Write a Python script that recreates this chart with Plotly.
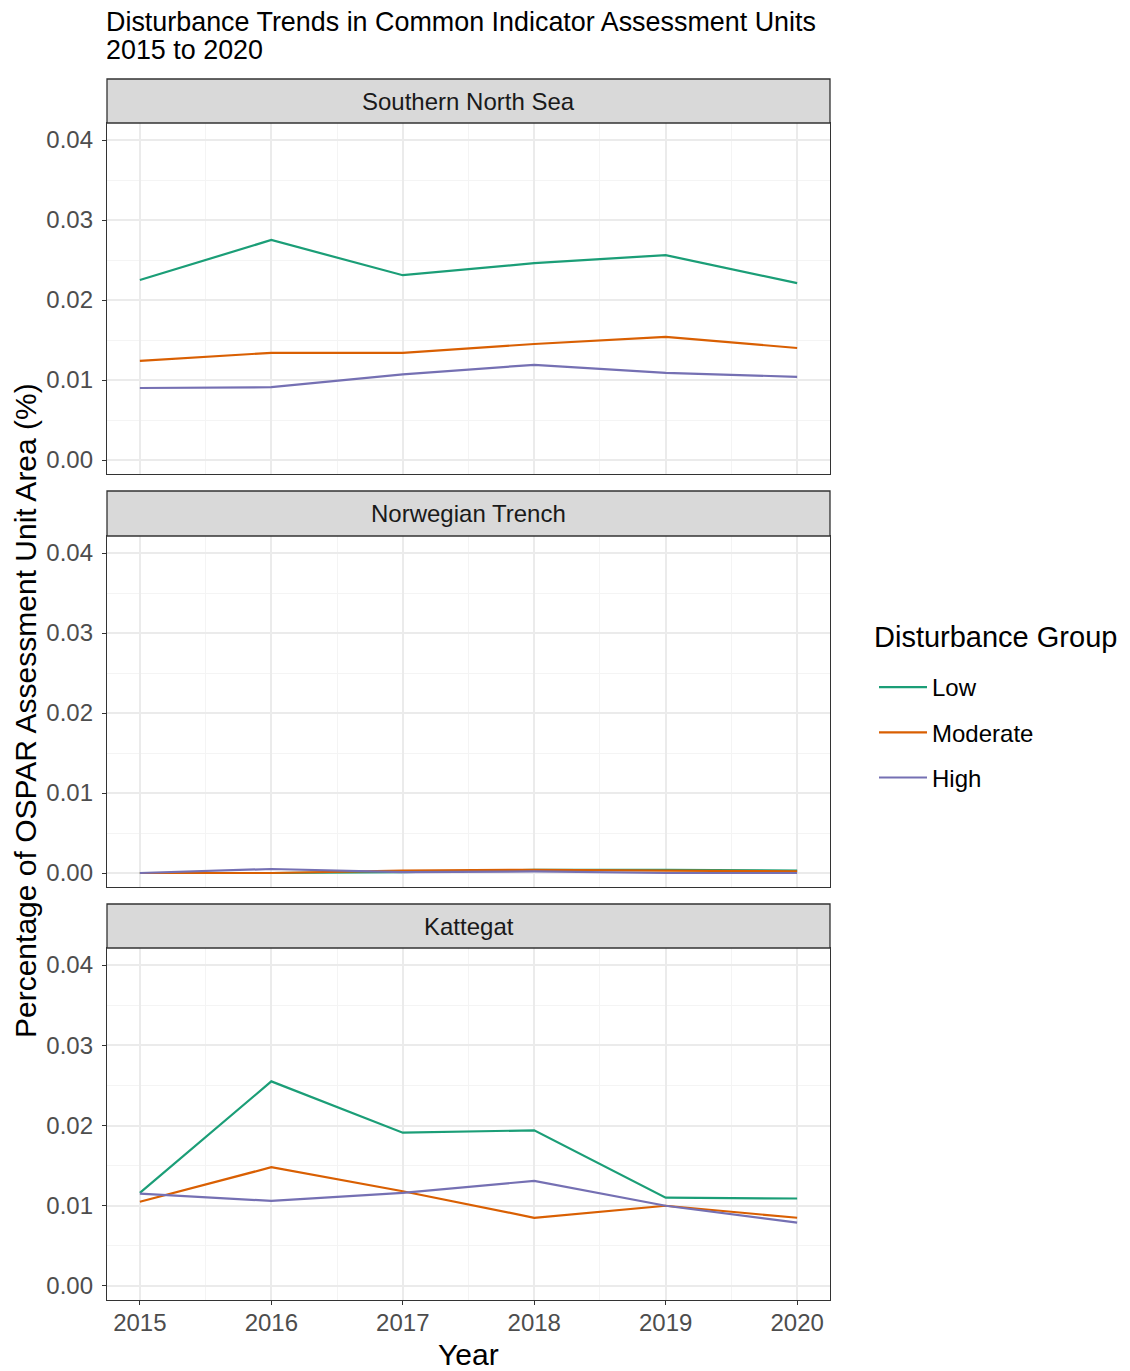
import plotly.graph_objects as go

years = [2015, 2016, 2017, 2018, 2019, 2020]
groups = ["Low", "Moderate", "High"]
colors = {"Low": "#1B9E77", "Moderate": "#D95F02", "High": "#7570B3"}
regions = ["Southern North Sea", "Norwegian Trench", "Kattegat"]

southern_north_sea = {
    "Low": [0.0225, 0.0275, 0.0231, 0.0246, 0.0256, 0.0221],
    "Moderate": [0.0124, 0.0134, 0.0134, 0.0145, 0.0154, 0.0140],
    "High": [0.0090, 0.0091, 0.0107, 0.0119, 0.0109, 0.0104],
}
norwegian_trench = {
    "Low": [0.0000, 0.0000, 0.0001, 0.0004, 0.0004, 0.0003],
    "Moderate": [0.0000, 0.0000, 0.0003, 0.0004, 0.0003, 0.0002],
    "High": [0.0000, 0.0005, 0.0001, 0.0002, 0.0000, 0.0000],
}
kattegat = {
    "Low": [0.0116, 0.0255, 0.0191, 0.0194, 0.0110, 0.0109],
    "Moderate": [0.0105, 0.0148, 0.0118, 0.0085, 0.0100, 0.0085],
    "High": [0.0115, 0.0106, 0.0116, 0.0131, 0.0100, 0.0079],
}
data = [southern_north_sea, norwegian_trench, kattegat]

y_ticks = [0.00, 0.01, 0.02, 0.03, 0.04]
y_tick_labels = ["0.00", "0.01", "0.02", "0.03", "0.04"]

FONT = "Liberation Sans, Arial, sans-serif"
OFF = 8  # page body margin
W, H = 1122, 1363
ML, MT = 107 - OFF, 79 - OFF
MR = W - (830 - OFF)
MB = H - (1300 - OFF)
PW = W - ML - MR
PH = H - MT - MB

def py(p):
    # picture pixel y -> paper y
    return (H - MB - (p - OFF)) / PH

def px(p):
    # picture pixel x -> paper x
    return (p - OFF - ML) / PW

# panel pixel extents in picture: (strip_top, plot_top, plot_bottom)
panels = [(79, 123, 474), (491, 536, 887), (904, 948, 1300)]

fig = go.Figure()
shapes = []
annotations = []
for i, (region, d) in enumerate(zip(regions, data)):
    ax = "" if i == 0 else str(i + 1)
    st, pt, pb = panels[i]
    for g in groups:
        fig.add_trace(go.Scatter(
            x=years, y=d[g], mode="lines", name=g,
            line=dict(color=colors[g], width=2.2),
            xaxis="x" + ax, yaxis="y" + ax,
            legendgroup=g, showlegend=(i == 0),
        ))
    dom = [py(pb), py(pt)]
    fig.layout["yaxis" + ax] = dict(
        domain=dom, range=[-0.00175, 0.042125], anchor="x" + ax,
        tickvals=y_ticks, ticktext=y_tick_labels,
        showgrid=True, gridcolor="#EBEBEB", gridwidth=1.5,
        minor=dict(dtick=0.005, showgrid=True, gridcolor="#F4F4F4", gridwidth=1),
        zeroline=False, showline=True, mirror=True, linecolor="#333333", linewidth=1.3,
        ticks="outside", ticklen=4, tickcolor="#333333", tickwidth=1.3,
        ticklabelstandoff=4,
        tickfont=dict(family=FONT, size=24, color="#4D4D4D"),
    )
    fig.layout["xaxis" + ax] = dict(
        domain=[0, 1], range=[2014.75, 2020.25], anchor="y" + ax,
        tickvals=years, ticktext=[str(y) for y in years],
        showticklabels=(i == 2),
        showgrid=True, gridcolor="#EBEBEB", gridwidth=1.5,
        minor=dict(dtick=0.5, showgrid=True, gridcolor="#F4F4F4", gridwidth=1),
        zeroline=False, showline=True, mirror=True, linecolor="#333333", linewidth=1.3,
        ticks="outside" if i == 2 else "", ticklen=4, tickcolor="#333333", tickwidth=1.3,
        ticklabelstandoff=-3,
        tickfont=dict(family=FONT, size=24, color="#4D4D4D"),
    )
    shapes.append(dict(type="rect", xref="paper", yref="paper",
                       x0=0, x1=1, y0=py(pt), y1=py(st),
                       fillcolor="#D9D9D9", line=dict(color="#333333", width=1.3),
                       layer="above"))
    annotations.append(dict(text=region, xref="paper", yref="paper",
                            x=0.5, y=(py(pt) + py(st)) / 2, showarrow=False,
                            xanchor="center", yanchor="middle",
                            font=dict(family=FONT, size=24, color="#1A1A1A")))

annotations.append(dict(
    text="Disturbance Trends in Common Indicator Assessment Units",
    xref="paper", yref="paper", x=px(107), y=py(22), xanchor="left", yanchor="middle",
    xshift=-3, align="left", showarrow=False,
    font=dict(family=FONT, size=26.9, color="#000000")))
annotations.append(dict(
    text="2015 to 2020",
    xref="paper", yref="paper", x=px(107), y=py(50), xanchor="left", yanchor="middle",
    xshift=-3, align="left", showarrow=False,
    font=dict(family=FONT, size=26.9, color="#000000")))
annotations.append(dict(
    text="Percentage of OSPAR Assessment Unit Area (%)", textangle=-90,
    xref="paper", yref="paper", x=px(25), y=py(711), xanchor="center", yanchor="middle",
    showarrow=False, font=dict(family=FONT, size=30, color="#000000")))
annotations.append(dict(
    text="Year", xref="paper", yref="paper", x=px(468), y=py(1354),
    xanchor="center", yanchor="middle",
    showarrow=False, font=dict(family=FONT, size=30, color="#000000")))
annotations.append(dict(
    text="Disturbance Group", xref="paper", yref="paper", x=px(875), y=py(637),
    xanchor="left", yanchor="middle", xshift=-3,
    showarrow=False, font=dict(family=FONT, size=29, color="#000000")))

fig.update_layout(
    width=W, height=H,
    margin=dict(l=ML, r=MR, t=MT, b=MB),
    paper_bgcolor="white", plot_bgcolor="white",
    shapes=shapes, annotations=annotations,
    legend=dict(
        font=dict(family=FONT, size=24, color="#000000"),
        x=px(874), y=py(665), xanchor="left", yanchor="top",
        tracegroupgap=11, itemwidth=48, bgcolor="rgba(0,0,0,0)",
    ),
)

fig.write_html("out.html")
